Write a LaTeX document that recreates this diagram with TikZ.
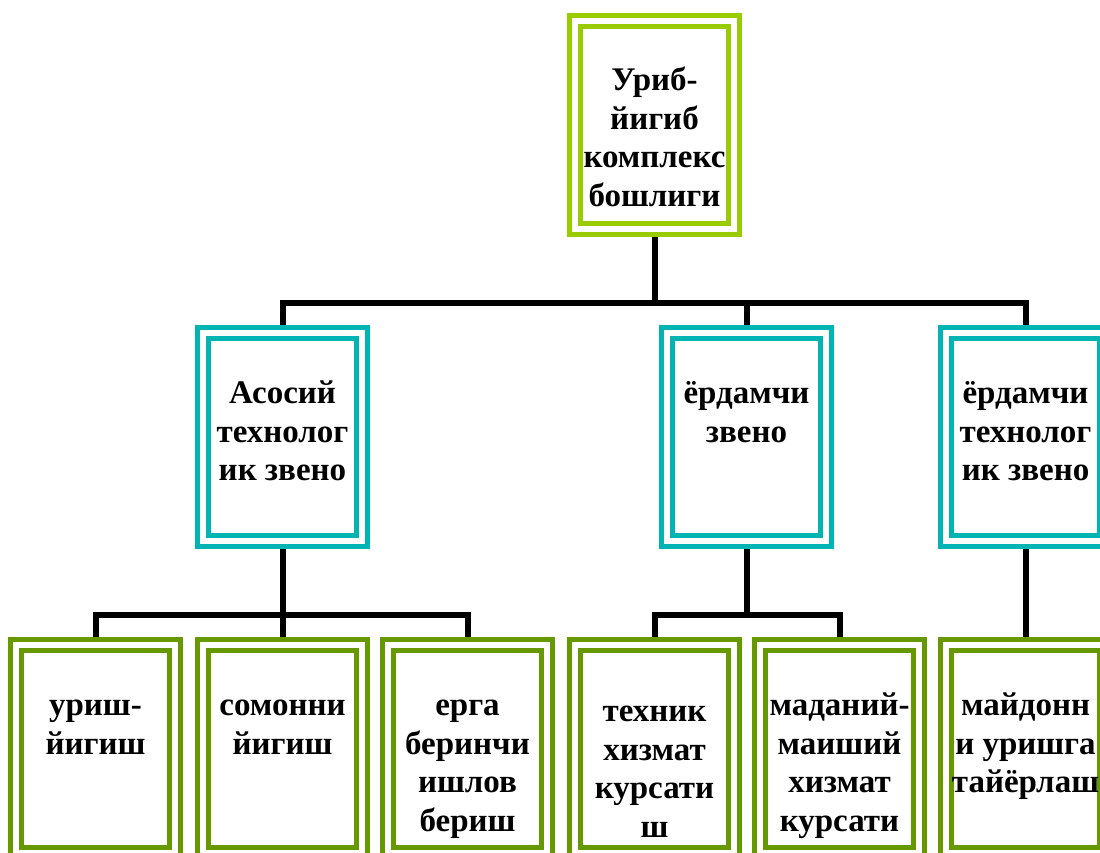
\documentclass[tikz,border=0pt]{standalone}
\usepackage{fontspec}
\setmainfont{Liberation Serif}
\usetikzlibrary{backgrounds,calc}
\definecolor{limeC}{HTML}{99CC00}
\definecolor{tealC}{HTML}{00B4B4}
\definecolor{greenC}{HTML}{669900}
\begin{document}
\begin{tikzpicture}[x=1pt,y=-1pt,
  box/.style={rectangle, draw=#1, line width=5pt, double=white, double distance=6pt,
    fill=white, minimum width=159pt, minimum height=208pt, inner sep=0pt},
  lbl/.style={anchor=north, align=center, inner sep=0pt,
    font=\fontsize{33}{38.5}\selectfont\bfseries},
  conn/.style={line width=6pt, black, line join=miter}]
\clip (0,0) rectangle (1100,852);
% boxes
\node[box=limeC] (top) at (654.5,125) {};
\node[box=tealC] (m1) at (282.5,437) {};
\node[box=tealC] (m2) at (746.5,437) {};
\node[box=tealC] (m3) at (1025.5,437) {};
\node[box=greenC] (b1) at (95.5,749) {};
\node[box=greenC] (b2) at (282.5,749) {};
\node[box=greenC] (b3) at (467.5,749) {};
\node[box=greenC] (b4) at (654.5,749) {};
\node[box=greenC] (b5) at (839.5,749) {};
\node[box=greenC] (b6) at (1025.5,749) {};
% labels
\node[lbl] (ttop) at ($(top.north)+(0,45)$) {\strut Уриб-\\йигиб\\комплекс\\бошлиги};
\node[lbl] (tm1) at ($(m1.north)+(0,46)$) {\strut Асосий\\технолог\\ик звено};
\node[lbl] (tm2) at ($(m2.north)+(0,46)$) {\strut ёрдамчи\\звено};
\node[lbl] (tm3) at ($(m3.north)+(0,46)$) {\strut ёрдамчи\\технолог\\ик звено};
\node[lbl] (tb1) at ($(b1.north)+(0,46)$) {\strut уриш-\\йигиш};
\node[lbl] (tb2) at ($(b2.north)+(0,46)$) {\strut сомонни\\йигиш};
\node[lbl] (tb3) at ($(b3.north)+(0,46)$) {\strut ерга\\беринчи\\ишлов\\бериш};
\node[lbl] (tb4) at ($(b4.north)+(0,52)$) {\strut техник\\хизмат\\курсати\\ш};
\node[lbl] (tb5) at ($(b5.north)+(0,46)$) {\strut маданий-\\маиший\\хизмат\\курсати};
\node[lbl] (tb6) at ($(b6.north)+(0,46)$) {\strut майдонн\\и уришга\\тайёрлаш};
% connectors
\begin{scope}[on background layer]
\coordinate (j1) at (654.5,303);
\coordinate (j2) at (282.5,615);
\coordinate (j3) at (746.5,615);
\draw[conn] (top.south) -- (top.south |- j1);
\draw[conn] (m1.north) -- (m1.north |- j1) -- (m3.north |- j1) -- (m3.north);
\draw[conn] (m2.north) -- (m2.north |- j1);
\draw[conn] (m1.south) -- (b2.north);
\draw[conn] (b1.north) -- (b1.north |- j2) -- (b3.north |- j2) -- (b3.north);
\draw[conn] (m2.south) -- (m2.south |- j3);
\draw[conn] (b4.north) -- (b4.north |- j3) -- (b5.north |- j3) -- (b5.north);
\draw[conn] (m3.south) -- (b6.north);
\end{scope}
\end{tikzpicture}
\end{document}
